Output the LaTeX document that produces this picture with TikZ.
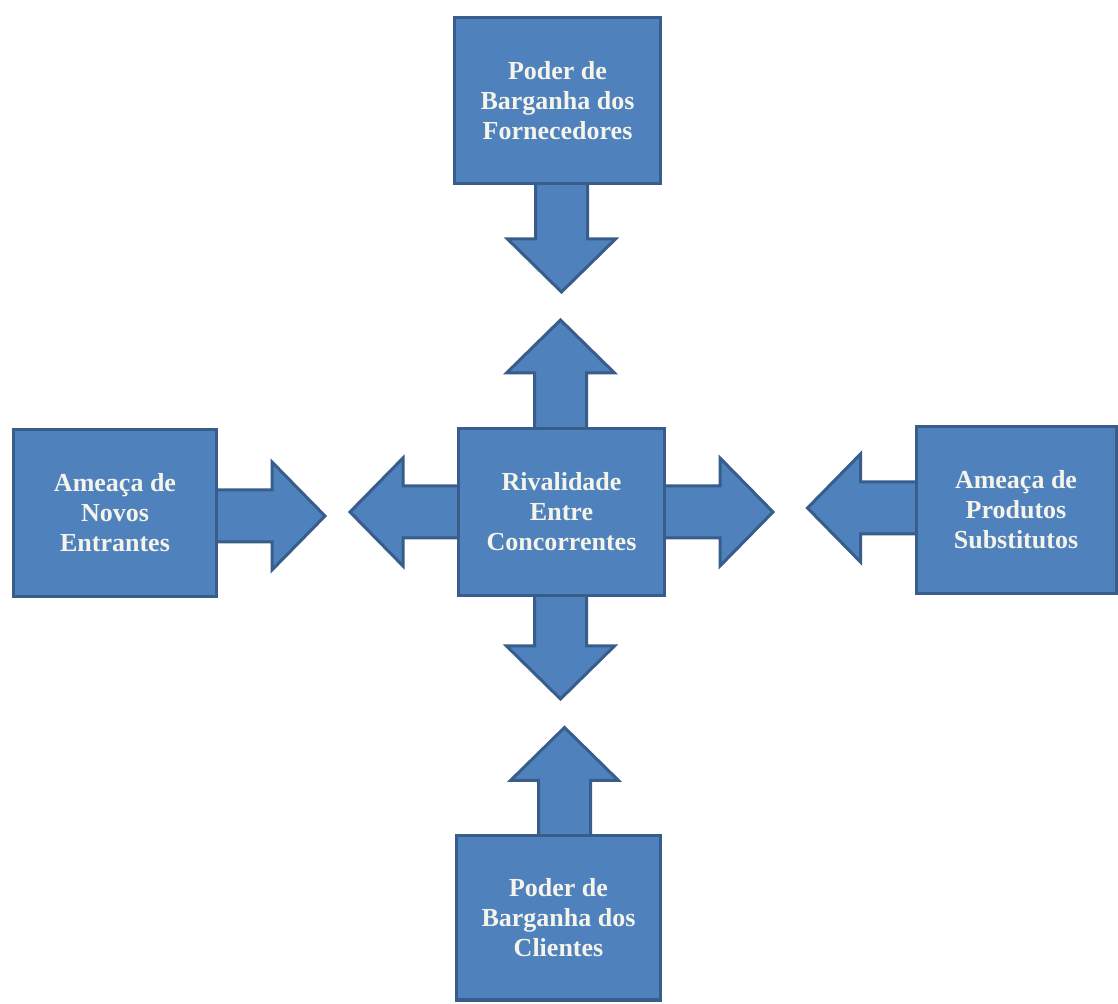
\documentclass[tikz,border=0pt]{standalone}
\usepackage{fontspec}
\setmainfont{Liberation Serif}
\usetikzlibrary{positioning}
\pgfdeclarelayer{background}
\pgfsetlayers{background,main}
\definecolor{forcefill}{HTML}{4F81BD}
\definecolor{forceedge}{HTML}{385D8A}
\definecolor{forcetext}{HTML}{F4F4EA}
\tikzset{
  forcebox/.style={draw=forceedge, fill=forcefill, line width=3pt,
    inner sep=0pt, align=center, text=forcetext,
    font=\fontsize{26}{30}\selectfont\bfseries},
  blockshape/.style={draw=forceedge, fill=forcefill, line width=3pt, line join=miter},
  pics/blockarrow/.style={code={
    \path[blockshape] (-4,-26) -- (54,-26) -- (54,-54) -- (107,0)
      -- (54,54) -- (54,26) -- (-4,26) -- cycle;
  }}
}
\begin{document}
\begin{tikzpicture}[x=1pt,y=1pt]
  \useasboundingbox (0,0) rectangle (1118,1003);

  % the five forces
  \node[forcebox, minimum width=206pt, minimum height=166pt] (forn) at (557.5,902.5)
    {Poder de\\Barganha dos\\Fornecedores};
  \node[forcebox, minimum width=203pt, minimum height=167pt] (novos) at (115,490)
    {Ameaça de\\Novos\\Entrantes};
  \node[forcebox, minimum width=206pt, minimum height=167pt] (rival) at (561.5,491)
    {Rivalidade\\Entre\\Concorrentes};
  \node[forcebox, minimum width=200pt, minimum height=167pt] (subst) at (1016,493)
    {Ameaça de\\Produtos\\Substitutos};
  \node[forcebox, minimum width=204pt, minimum height=164pt] (clien) at (558.5,85)
    {Poder de\\Barganha dos\\Clientes};

  % white page and block arrows, tucked under the box borders
  \begin{pgfonlayer}{background}
    \fill[white] (0,0) rectangle (1118,1003);
    \pic[rotate=-90] at ([xshift=4pt]forn.south) {blockarrow};
    \pic at ([yshift=-3pt]novos.east) {blockarrow};
    \pic[rotate=180] at ([yshift=2pt]subst.west) {blockarrow};
    \pic[rotate=90] at ([xshift=6pt]clien.north) {blockarrow};
    \pic[rotate=90] at ([xshift=-1pt]rival.north) {blockarrow};
    \pic[rotate=180] at (rival.west) {blockarrow};
    \pic at (rival.east) {blockarrow};
    \pic[rotate=-90] at ([xshift=-1pt,yshift=5pt]rival.south) {blockarrow};
  \end{pgfonlayer}
\end{tikzpicture}
\end{document}
